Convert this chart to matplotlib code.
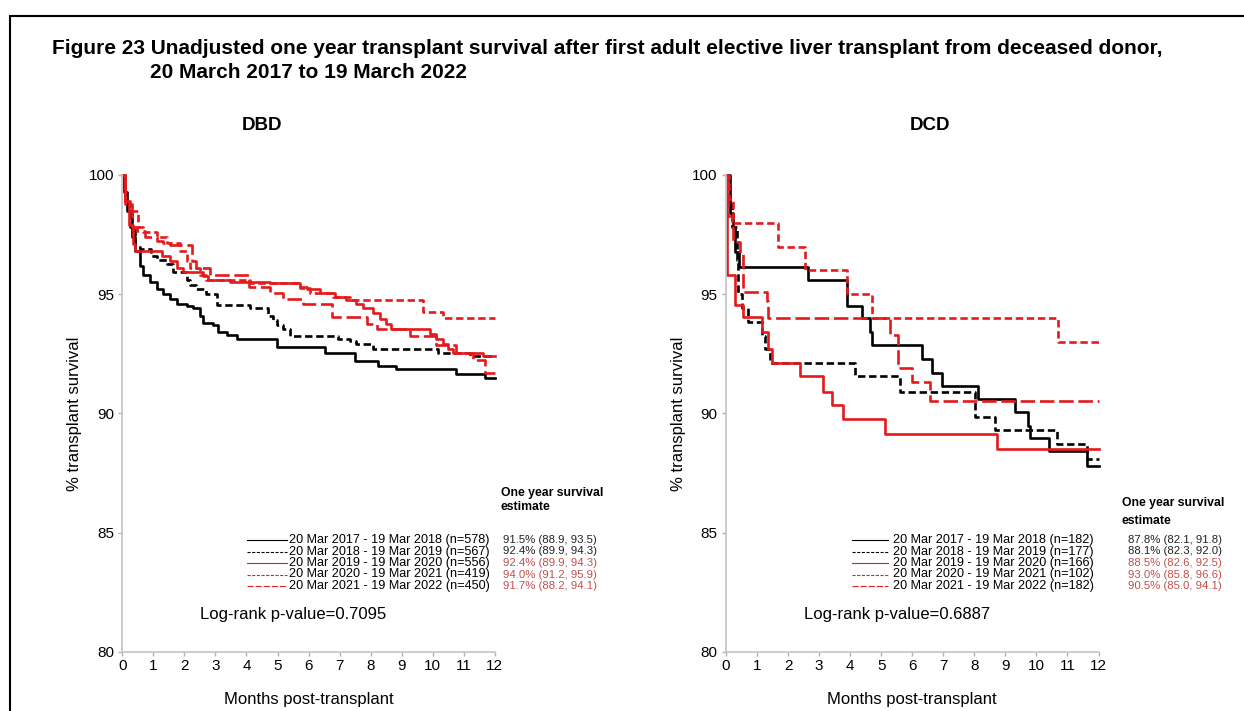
import matplotlib.pyplot as plt
from matplotlib.lines import Line2D
from matplotlib.patches import Rectangle

plt.rcParams['font.family'] = ['Liberation Sans', 'DejaVu Sans']

# Kaplan-Meier step data (months, % surviving)
periods = ["20 Mar 2017 - 19 Mar 2018", "20 Mar 2018 - 19 Mar 2019",
           "20 Mar 2019 - 19 Mar 2020", "20 Mar 2020 - 19 Mar 2021",
           "20 Mar 2021 - 19 Mar 2022"]

dbd_n = [578, 567, 556, 419, 450]
dbd_est = ["91.5% (88.9, 93.5)", "92.4% (89.9, 94.3)", "92.4% (89.9, 94.3)",
           "94.0% (91.2, 95.9)", "91.7% (88.2, 94.1)"]
dbd_t1 = [0, 0.05, 0.14, 0.30, 0.41, 0.57, 0.68, 0.89, 1.11, 1.32, 1.53, 1.75, 2.07, 2.29,
          2.50, 2.61, 2.93, 3.09, 3.36, 3.68, 4.97, 6.52, 7.49, 8.24, 8.83, 10.76, 11.67]
dbd_s1 = [100, 99.3, 98.5, 97.4, 96.8, 96.2, 95.8, 95.5, 95.2, 95.0, 94.8, 94.6, 94.5, 94.4,
          94.1, 93.8, 93.7, 93.4, 93.3, 93.1, 92.8, 92.55, 92.2, 92.0, 91.85, 91.65, 91.5]
dbd_t2 = [0, 0.1, 0.25, 0.41, 0.57, 0.94, 1.11, 1.43, 1.64, 2.07, 2.18, 2.39, 2.71, 3.04,
          4.11, 4.70, 4.86, 4.97, 5.18, 5.40, 6.95, 7.33, 7.54, 8.08, 10.17, 11.19]
dbd_s2 = [100, 98.8, 97.8, 97.0, 96.9, 96.6, 96.45, 96.25, 95.95, 95.6, 95.4, 95.2, 95.0, 94.55,
          94.4, 94.1, 93.9, 93.7, 93.55, 93.25, 93.1, 93.05, 92.9, 92.7, 92.55, 92.4]
dbd_t3 = [0, 0.1, 0.2, 0.35, 0.41, 1.27, 1.53, 1.75, 1.96, 2.61, 2.77, 3.47, 4.75, 5.72, 5.94,
          6.36, 6.85, 7.22, 7.54, 7.76, 8.08, 8.29, 8.51, 8.67, 9.90, 10.12, 10.33, 10.49,
          10.65, 11.62]
dbd_s3 = [100, 98.9, 97.9, 97.1, 96.8, 96.6, 96.4, 96.1, 95.95, 95.75, 95.6, 95.5, 95.45, 95.3,
          95.2, 95.05, 94.9, 94.75, 94.6, 94.4, 94.2, 93.95, 93.75, 93.55, 93.35, 93.1, 92.9,
          92.7, 92.55, 92.4]
dbd_t4 = [0, 0.09, 0.25, 0.52, 0.68, 1.11, 1.43, 1.86, 2.07, 2.18, 2.50, 2.71, 4.11, 5.72,
          6.04, 6.79, 7.33, 9.69, 10.33]
dbd_s4 = [100, 98.9, 98.5, 97.8, 97.6, 97.4, 97.15, 96.8, 96.4, 96.1, 95.8, 95.6, 95.45, 95.25,
          95.05, 94.9, 94.75, 94.25, 94.0]
dbd_t5 = [0, 0.1, 0.3, 0.46, 0.73, 1.11, 1.32, 1.53, 2.23, 2.39, 2.82, 4.07, 4.75, 5.18, 5.83,
          6.74, 7.87, 8.19, 9.26, 10.12, 10.75, 11.3, 11.67]
dbd_s5 = [100, 98.8, 97.8, 97.66, 97.4, 97.25, 97.15, 97.05, 96.4, 96.1, 95.8, 95.3, 95.05,
          94.8, 94.6, 94.05, 93.75, 93.55, 93.25, 92.85, 92.55, 92.25, 91.7]

dcd_n = [182, 177, 166, 102, 182]
dcd_est = ["87.8% (82.1, 91.8)", "88.1% (82.3, 92.0)", "88.5% (82.6, 92.5)",
           "93.0% (85.8, 96.6)", "90.5% (85.0, 94.1)"]
dcd_t1 = [0, 0.13, 0.21, 0.29, 0.43, 2.65, 3.89, 4.37, 4.64, 4.69, 6.31, 6.63, 6.95, 8.13,
          9.31, 9.74, 9.80, 10.39, 11.62]
dcd_s1 = [100, 98.4, 97.8, 96.75, 96.15, 95.6, 94.5, 94.0, 93.4, 92.85, 92.3, 91.7, 91.15,
          90.6, 90.05, 89.45, 88.95, 88.4, 87.8]
dcd_t2 = [0, 0.11, 0.18, 0.34, 0.40, 0.50, 0.72, 1.15, 1.26, 1.42, 4.16, 5.61, 8.02, 8.67,
          10.66, 11.62]
dcd_s2 = [100, 98.8, 97.8, 96.45, 95.0, 94.4, 93.85, 93.25, 92.7, 92.1, 91.55, 90.9, 89.85,
          89.3, 88.7, 88.1]
dcd_t3 = [0, 0.03, 0.29, 0.56, 1.15, 1.36, 1.47, 2.38, 3.14, 3.41, 3.78, 5.12, 8.72]
dcd_s3 = [100, 95.8, 94.55, 94.05, 93.4, 92.7, 92.1, 91.55, 90.9, 90.35, 89.75, 89.15, 88.5]
dcd_t4 = [0, 0.11, 0.21, 1.69, 2.55, 3.89, 4.69, 10.71]
dcd_s4 = [100, 99.0, 98.0, 97.0, 96.0, 95.0, 94.0, 93.0]
dcd_t5 = [0, 0.08, 0.18, 0.24, 0.45, 0.56, 1.31, 1.36, 5.28, 5.55, 5.98, 6.57]
dcd_s5 = [100, 98.3, 97.8, 97.2, 96.7, 95.1, 94.7, 94.0, 93.3, 91.9, 91.3, 90.5]

colors = ['black', 'black', '#e41a1c', '#e41a1c', '#e41a1c']
styles = ['-', (0, (2.8, 1.4)), '-', (0, (2.8, 1.4)), (0, (5.5, 1.8))]
est_colors = ['#222222', '#222222', '#c0504d', '#c0504d', '#c0504d']

W, H = 1244, 711
fig = plt.figure(figsize=(W / 100, H / 100), dpi=100)


def fx(x):
    return x / W


def fy(y):
    return 1 - y / H


# outer frame
fig.add_artist(Rectangle((fx(10), fy(716)), fx(1250), fy(16) - fy(716),
                         fill=False, lw=1.5, ec='black', transform=fig.transFigure))

fig.text(fx(52), fy(48), "Figure 23 Unadjusted one year transplant survival after first adult "
         "elective liver transplant from deceased donor,", fontsize=15, fontweight='bold',
         va='center')
fig.text(fx(150), fy(72), "20 March 2017 to 19 March 2022", fontsize=15,
         fontweight='bold', va='center')

panels = [
    dict(name='DBD', left=122.3, title_x=262, n=dbd_n, est=dbd_est, p='0.7095',
         t=[dbd_t1, dbd_t2, dbd_t3, dbd_t4, dbd_t5], s=[dbd_s1, dbd_s2, dbd_s3, dbd_s4, dbd_s5],
         leg_x=(246.7, 286.7, 289), est_x=503, head=(501, 493, 507), lr_x=200),
    dict(name='DCD', left=726, title_x=930, n=dcd_n, est=dcd_est, p='0.6887',
         t=[dcd_t1, dcd_t2, dcd_t3, dcd_t4, dcd_t5], s=[dcd_s1, dcd_s2, dcd_s3, dcd_s4, dcd_s5],
         leg_x=(851.7, 888, 893), est_x=1128, head=(1122, 503, 521), lr_x=804),
]

for p in panels:
    ax = fig.add_axes([fx(p['left']), fy(651.7), 372.5 / W, (651.7 - 175) / H])
    for i in range(5):
        t = p['t'][i] + [12]
        s = p['s'][i] + [p['s'][i][-1]]
        ax.step(t, s, where='post', color=colors[i], ls=styles[i], lw=1.9, clip_on=False)
    ax.set_xlim(0, 12)
    ax.set_ylim(80, 100)
    ax.set_xticks(range(13))
    ax.set_yticks([80, 85, 90, 95, 100])
    for sp in ['top', 'right']:
        ax.spines[sp].set_visible(False)
    for sp in ['left', 'bottom']:
        ax.spines[sp].set_color('#c8c8c8')
        ax.spines[sp].set_linewidth(1.3)
    ax.tick_params(colors='#b0b0b0', labelcolor='black', labelsize=11, length=3, width=1)
    ax.tick_params(axis='x', pad=2)
    ax.tick_params(axis='y', pad=3)
    ax.set_xlabel('Months post-transplant', fontsize=12)
    ax.set_ylabel('% transplant survival', fontsize=12)
    ax.xaxis.set_label_coords(0.5, -0.085)
    ax.yaxis.set_label_coords(-0.108, 0.5)

    fig.text(fx(p['title_x']), fy(125), p['name'], fontsize=13.5, fontweight='bold',
             ha='center', va='center')

    # legend rows and one year estimates
    x1, x2, xt = p['leg_x']
    for i in range(5):
        y = 540 + i * 11.5
        fig.add_artist(Line2D([fx(x1), fx(x2)], [fy(y), fy(y)], color=colors[i],
                              ls=styles[i], lw=0.8, transform=fig.transFigure))
        fig.text(fx(xt), fy(y), f"{periods[i]} (n={p['n'][i]})", fontsize=9.1, va='center')
        fig.text(fx(p['est_x']), fy(y), p['est'][i], fontsize=8.2, va='center',
                 color=est_colors[i])
    hx, hy1, hy2 = p['head']
    fig.text(fx(hx), fy(hy1), 'One year survival', fontsize=8.8, fontweight='bold',
             va='center')
    fig.text(fx(hx), fy(hy2), 'estimate', fontsize=8.8, fontweight='bold', va='center')
    fig.text(fx(p['lr_x']), fy(615), f"Log-rank p-value={p['p']}", fontsize=12, va='center')

fig.savefig('out.png', dpi=100)
